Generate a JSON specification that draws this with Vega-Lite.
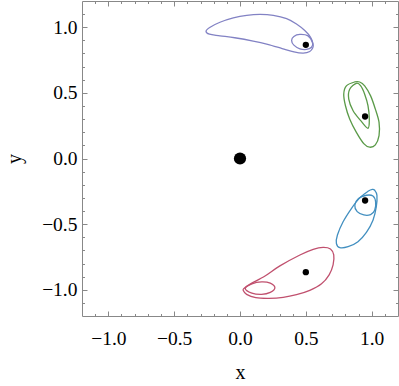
{
 "$schema": "https://vega.github.io/schema/vega-lite/v6.json",
 "width": 316, "height": 315,
 "autosize": {"type": "none"},
 "padding": {"left": 82, "top": 1, "right": 1, "bottom": 70},
 "config": {
  "view": {"stroke": "#888", "strokeWidth": 1},
  "axis": {"labelFont": "Liberation Serif", "titleFont": "Liberation Serif", "labelFontSize": 19.5, "titleFontSize": 20, "labelColor": "#000", "titleColor": "#000", "titleFontWeight": "normal", "grid": false, "domain": false, "tickColor": "#888", "tickWidth": 1}
 },
 "datasets": {
  "curves": [
   {"s":"p","loop":"po","i":0,"x":0.555,"y":0.873},{"s":"p","loop":"po","i":1,"x":0.536,"y":0.924},{"s":"p","loop":"po","i":2,"x":0.492,"y":0.975},{"s":"p","loop":"po","i":3,"x":0.429,"y":1.025},{"s":"p","loop":"po","i":4,"x":0.354,"y":1.066},{"s":"p","loop":"po","i":5,"x":0.253,"y":1.091},{"s":"p","loop":"po","i":6,"x":0.152,"y":1.098},{"s":"p","loop":"po","i":7,"x":0.051,"y":1.091},{"s":"p","loop":"po","i":8,"x":-0.051,"y":1.071},{"s":"p","loop":"po","i":9,"x":-0.152,"y":1.038},{"s":"p","loop":"po","i":10,"x":-0.227,"y":1.0},{"s":"p","loop":"po","i":11,"x":-0.258,"y":0.97},{"s":"p","loop":"po","i":12,"x":-0.232,"y":0.947},{"s":"p","loop":"po","i":13,"x":-0.152,"y":0.935},{"s":"p","loop":"po","i":14,"x":-0.04,"y":0.92},{"s":"p","loop":"po","i":15,"x":0.1,"y":0.895},{"s":"p","loop":"po","i":16,"x":0.21,"y":0.87},{"s":"p","loop":"po","i":17,"x":0.32,"y":0.838},{"s":"p","loop":"po","i":18,"x":0.41,"y":0.812},{"s":"p","loop":"po","i":19,"x":0.48,"y":0.803},{"s":"p","loop":"po","i":20,"x":0.53,"y":0.815},{"s":"p","loop":"po","i":21,"x":0.553,"y":0.843},
   {"s":"p","loop":"pi","i":0,"x":0.551,"y":0.881},{"s":"p","loop":"pi","i":1,"x":0.517,"y":0.934},{"s":"p","loop":"pi","i":2,"x":0.455,"y":0.945},{"s":"p","loop":"pi","i":3,"x":0.409,"y":0.93},{"s":"p","loop":"pi","i":4,"x":0.392,"y":0.899},{"s":"p","loop":"pi","i":5,"x":0.409,"y":0.864},{"s":"p","loop":"pi","i":6,"x":0.455,"y":0.836},{"s":"p","loop":"pi","i":7,"x":0.505,"y":0.831},{"s":"p","loop":"pi","i":8,"x":0.543,"y":0.848},
   {"s":"g","loop":"go","i":0,"x":0.871,"y":0.583},{"s":"g","loop":"go","i":1,"x":0.808,"y":0.553},{"s":"g","loop":"go","i":2,"x":0.788,"y":0.49},{"s":"g","loop":"go","i":3,"x":0.801,"y":0.402},{"s":"g","loop":"go","i":4,"x":0.833,"y":0.301},{"s":"g","loop":"go","i":5,"x":0.884,"y":0.199},{"s":"g","loop":"go","i":6,"x":0.942,"y":0.111},{"s":"g","loop":"go","i":7,"x":0.985,"y":0.086},{"s":"g","loop":"go","i":8,"x":1.028,"y":0.104},{"s":"g","loop":"go","i":9,"x":1.056,"y":0.174},{"s":"g","loop":"go","i":10,"x":1.056,"y":0.275},{"s":"g","loop":"go","i":11,"x":1.028,"y":0.376},{"s":"g","loop":"go","i":12,"x":0.992,"y":0.477},{"s":"g","loop":"go","i":13,"x":0.947,"y":0.553},{"s":"g","loop":"go","i":14,"x":0.909,"y":0.583},
   {"s":"g","loop":"gi","i":0,"x":0.884,"y":0.573},{"s":"g","loop":"gi","i":1,"x":0.833,"y":0.528},{"s":"g","loop":"gi","i":2,"x":0.826,"y":0.452},{"s":"g","loop":"gi","i":3,"x":0.859,"y":0.364},{"s":"g","loop":"gi","i":4,"x":0.917,"y":0.288},{"s":"g","loop":"gi","i":5,"x":0.972,"y":0.23},{"s":"g","loop":"gi","i":6,"x":0.982,"y":0.301},{"s":"g","loop":"gi","i":7,"x":0.972,"y":0.402},{"s":"g","loop":"gi","i":8,"x":0.947,"y":0.49},{"s":"g","loop":"gi","i":9,"x":0.917,"y":0.553},
   {"s":"b","loop":"bo","i":0,"x":1.023,"y":-0.242},{"s":"b","loop":"bo","i":1,"x":1.04,"y":-0.28},{"s":"b","loop":"bo","i":2,"x":1.035,"y":-0.369},{"s":"b","loop":"bo","i":3,"x":1.01,"y":-0.47},{"s":"b","loop":"bo","i":4,"x":0.96,"y":-0.563},{"s":"b","loop":"bo","i":5,"x":0.896,"y":-0.634},{"s":"b","loop":"bo","i":6,"x":0.821,"y":-0.672},{"s":"b","loop":"bo","i":7,"x":0.758,"y":-0.679},{"s":"b","loop":"bo","i":8,"x":0.732,"y":-0.646},{"s":"b","loop":"bo","i":9,"x":0.74,"y":-0.583},{"s":"b","loop":"bo","i":10,"x":0.783,"y":-0.482},{"s":"b","loop":"bo","i":11,"x":0.846,"y":-0.381},{"s":"b","loop":"bo","i":12,"x":0.909,"y":-0.3},{"s":"b","loop":"bo","i":13,"x":0.972,"y":-0.25},{"s":"b","loop":"bo","i":14,"x":1.005,"y":-0.235},
   {"s":"b","loop":"bi","i":0,"x":0.96,"y":-0.28},{"s":"b","loop":"bi","i":1,"x":0.9,"y":-0.305},{"s":"b","loop":"bi","i":2,"x":0.872,"y":-0.356},{"s":"b","loop":"bi","i":3,"x":0.89,"y":-0.405},{"s":"b","loop":"bi","i":4,"x":0.94,"y":-0.43},{"s":"b","loop":"bi","i":5,"x":0.992,"y":-0.427},{"s":"b","loop":"bi","i":6,"x":1.023,"y":-0.394},{"s":"b","loop":"bi","i":7,"x":1.03,"y":-0.331},{"s":"b","loop":"bi","i":8,"x":1.01,"y":-0.286},
   {"s":"r","loop":"ro","i":0,"x":0.03,"y":-0.99},{"s":"r","loop":"ro","i":1,"x":0.08,"y":-0.955},{"s":"r","loop":"ro","i":2,"x":0.19,"y":-0.895},{"s":"r","loop":"ro","i":3,"x":0.303,"y":-0.818},{"s":"r","loop":"ro","i":4,"x":0.455,"y":-0.735},{"s":"r","loop":"ro","i":5,"x":0.556,"y":-0.692},{"s":"r","loop":"ro","i":6,"x":0.631,"y":-0.677},{"s":"r","loop":"ro","i":7,"x":0.687,"y":-0.689},{"s":"r","loop":"ro","i":8,"x":0.712,"y":-0.735},{"s":"r","loop":"ro","i":9,"x":0.707,"y":-0.811},{"s":"r","loop":"ro","i":10,"x":0.677,"y":-0.886},{"s":"r","loop":"ro","i":11,"x":0.619,"y":-0.955},{"s":"r","loop":"ro","i":12,"x":0.53,"y":-1.005},{"s":"r","loop":"ro","i":13,"x":0.429,"y":-1.038},{"s":"r","loop":"ro","i":14,"x":0.328,"y":-1.058},{"s":"r","loop":"ro","i":15,"x":0.22,"y":-1.065},{"s":"r","loop":"ro","i":16,"x":0.12,"y":-1.06},{"s":"r","loop":"ro","i":17,"x":0.05,"y":-1.035},{"s":"r","loop":"ro","i":18,"x":0.025,"y":-1.005},
   {"s":"r","loop":"ri","i":0,"x":0.04,"y":-0.99},{"s":"r","loop":"ri","i":1,"x":0.09,"y":-0.955},{"s":"r","loop":"ri","i":2,"x":0.164,"y":-0.94},{"s":"r","loop":"ri","i":3,"x":0.23,"y":-0.95},{"s":"r","loop":"ri","i":4,"x":0.265,"y":-0.985},{"s":"r","loop":"ri","i":5,"x":0.23,"y":-1.02},{"s":"r","loop":"ri","i":6,"x":0.164,"y":-1.035},{"s":"r","loop":"ri","i":7,"x":0.09,"y":-1.025}
  ],
  "dots": [
   {"x":0.5,"y":0.866},{"x":0.95,"y":0.32},{"x":0.95,"y":-0.32},{"x":0.5,"y":-0.866}
  ],
  "origin": [{"x":0,"y":0}]
 },
 "layer": [
  {
   "data": {"name": "curves"},
   "mark": {"type": "line", "interpolate": "cardinal-closed", "strokeWidth": 1.3},
   "encoding": {
    "x": {"field": "x", "type": "quantitative", "scale": {"domain": [-1.2, 1.2], "nice": false, "zero": false},
          "axis": {"orient": "bottom", "values": [-1, -0.5, 0, 0.5, 1], "format": ".1f", "ticks": false, "labelPadding": 13, "title": "x", "titlePadding": 15}},
    "y": {"field": "y", "type": "quantitative", "scale": {"domain": [-1.2, 1.2], "nice": false, "zero": false},
          "axis": {"orient": "left", "values": [-1, -0.5, 0, 0.5, 1], "format": ".1f", "ticks": false, "labelPadding": 5, "title": "y", "titlePadding": 17}},
    "color": {"field": "s", "type": "nominal", "scale": {"domain": ["p", "g", "b", "r"], "range": ["#8282c4", "#5a9a48", "#428fc0", "#c0506e"]}, "legend": null},
    "detail": {"field": "loop"},
    "order": {"field": "i", "type": "quantitative"}
   }
  },
  {
   "data": {"name": "dots"},
   "mark": {"type": "point", "filled": true, "color": "#000", "size": 40, "opacity": 1},
   "encoding": {
    "x": {"field": "x", "type": "quantitative", "axis": {"orient": "bottom", "values": [-1, -0.5, 0, 0.5, 1], "labels": false, "tickSize": -5, "title": null}},
    "y": {"field": "y", "type": "quantitative", "axis": {"orient": "left", "values": [-1, -0.5, 0, 0.5, 1], "labels": false, "tickSize": -5, "title": null}}
   }
  },
  {
   "data": {"name": "origin"},
   "mark": {"type": "point", "filled": true, "color": "#000", "size": 150, "opacity": 1},
   "encoding": {
    "x": {"field": "x", "type": "quantitative", "axis": {"orient": "bottom", "values": [-1.1, -0.9, -0.8, -0.7, -0.6, -0.4, -0.3, -0.2, -0.1, 0.1, 0.2, 0.3, 0.4, 0.6, 0.7, 0.8, 0.9, 1.1], "labels": false, "tickSize": -2.5, "title": null}},
    "y": {"field": "y", "type": "quantitative", "axis": {"orient": "left", "values": [-1.1, -0.9, -0.8, -0.7, -0.6, -0.4, -0.3, -0.2, -0.1, 0.1, 0.2, 0.3, 0.4, 0.6, 0.7, 0.8, 0.9, 1.1], "labels": false, "tickSize": -2.5, "title": null}}
   }
  },
  {
   "data": {"name": "origin"},
   "mark": {"type": "point", "opacity": 0},
   "encoding": {
    "x": {"field": "x", "type": "quantitative", "axis": {"orient": "top", "values": [-1, -0.5, 0, 0.5, 1], "labels": false, "tickSize": -5, "title": null}},
    "y": {"field": "y", "type": "quantitative", "axis": {"orient": "right", "values": [-1, -0.5, 0, 0.5, 1], "labels": false, "tickSize": -5, "title": null}}
   }
  },
  {
   "data": {"name": "origin"},
   "mark": {"type": "point", "opacity": 0},
   "encoding": {
    "x": {"field": "x", "type": "quantitative", "axis": {"orient": "top", "values": [-1.1, -0.9, -0.8, -0.7, -0.6, -0.4, -0.3, -0.2, -0.1, 0.1, 0.2, 0.3, 0.4, 0.6, 0.7, 0.8, 0.9, 1.1], "labels": false, "tickSize": -2.5, "title": null}},
    "y": {"field": "y", "type": "quantitative", "axis": {"orient": "right", "values": [-1.1, -0.9, -0.8, -0.7, -0.6, -0.4, -0.3, -0.2, -0.1, 0.1, 0.2, 0.3, 0.4, 0.6, 0.7, 0.8, 0.9, 1.1], "labels": false, "tickSize": -2.5, "title": null}}
   }
  }
 ],
 "resolve": {"axis": {"x": "independent", "y": "independent"}}
}
